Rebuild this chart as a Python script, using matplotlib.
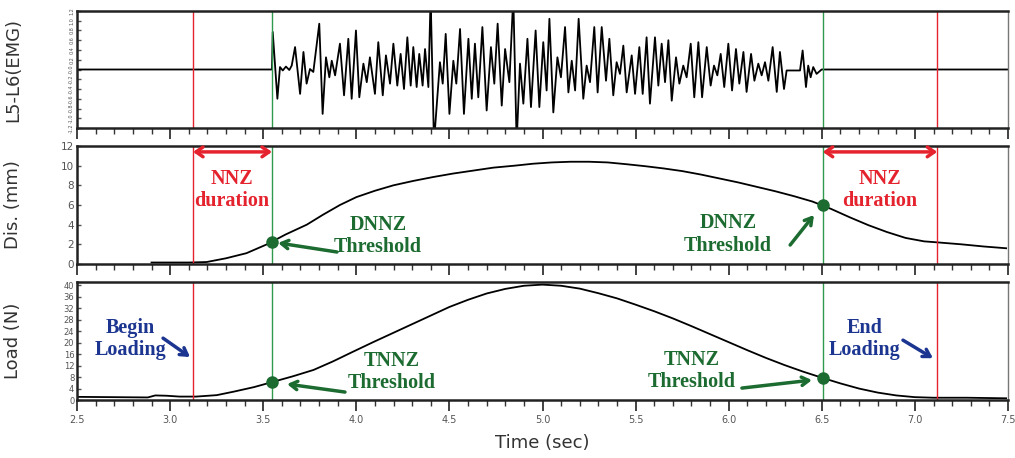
import numpy as np
import matplotlib
matplotlib.use("Agg")
import matplotlib.pyplot as plt
from matplotlib.ticker import MultipleLocator

# EMG trace (sec, value)
emg_t = [2.5, 3.547, 3.551, 3.576, 3.590, 3.605, 3.622, 3.640, 3.653, 3.671, 3.698, 3.716, 3.733,
         3.751, 3.769, 3.801, 3.819, 3.837, 3.855, 3.868, 3.886, 3.912, 3.934, 3.957, 3.975,
         3.998, 4.016, 4.038, 4.056, 4.073, 4.100, 4.118, 4.142, 4.159, 4.181, 4.199, 4.220,
         4.238, 4.256, 4.274, 4.292, 4.306, 4.324, 4.338, 4.356, 4.369, 4.387, 4.399, 4.417,
         4.449, 4.464, 4.480, 4.500, 4.521, 4.537, 4.557, 4.578, 4.602, 4.620, 4.637, 4.655,
         4.677, 4.700, 4.723, 4.741, 4.759, 4.781, 4.799, 4.822, 4.843, 4.861, 4.879, 4.897,
         4.919, 4.938, 4.963, 4.983, 5.004, 5.022, 5.037, 5.058, 5.080, 5.099, 5.121, 5.139,
         5.157, 5.175, 5.194, 5.219, 5.237, 5.255, 5.278, 5.296, 5.318, 5.341, 5.359, 5.380,
         5.398, 5.416, 5.434, 5.452, 5.479, 5.497, 5.520, 5.538, 5.559, 5.577, 5.604, 5.622,
         5.640, 5.658, 5.676, 5.694, 5.717, 5.735, 5.756, 5.774, 5.796, 5.815, 5.837, 5.857,
         5.882, 5.903, 5.921, 5.939, 5.957, 5.976, 5.998, 6.018, 6.039, 6.057, 6.079, 6.096,
         6.120, 6.138, 6.159, 6.177, 6.195, 6.213, 6.236, 6.258, 6.275, 6.297, 6.311, 6.383,
         6.397, 6.415, 6.427, 6.440, 6.454, 6.472, 6.499, 7.5]
emg_v = [0.0, 0.0, 0.77, -0.60, 0.05, -0.02, 0.06, -0.01, 0.08, 0.46, -0.50, 0.36, -0.29,
         0.01, -0.05, 0.94, -0.91, 0.25, -0.16, 0.18, -0.12, 0.53, -0.53, 0.63, -0.60,
         0.80, -0.57, 0.12, -0.26, 0.25, -0.50, 0.56, -0.53, 0.29, -0.29, 0.53, -0.33,
         0.32, -0.40, 0.66, -0.33, 0.46, -0.36, 0.32, -0.33, 0.42, -0.36, 1.5, -1.5,
         0.15, -0.29, 0.73, -0.91, 0.18, -0.29, 0.83, -0.91, 0.63, -0.60, 0.53, -0.57,
         0.87, -0.84, 0.46, -0.29, 0.94, -0.74, 0.42, -0.26, 1.5, -1.5, 0.12, -0.70,
         0.63, -0.77, 0.80, -0.77, 0.56, -0.43, 1.04, -0.88, 0.25, -0.16, 0.87, -0.47,
         0.18, -0.43, 1.04, -0.60, 0.08, -0.26, 0.87, -0.47, 0.87, -0.23, 0.63, -0.53,
         0.15, -0.09, 0.49, -0.47, 0.29, -0.50, 0.46, -0.50, 0.66, -0.70, 0.66, -0.33,
         0.53, -0.26, 0.60, -0.64, 0.25, -0.29, 0.08, -0.16, 0.53, -0.57, 0.56, -0.57,
         0.46, -0.33, 0.08, -0.12, 0.32, -0.36, 0.53, -0.43, 0.42, -0.29, 0.36, -0.46,
         0.32, -0.23, 0.12, -0.12, 0.15, -0.23, 0.46, -0.46, 0.36, -0.40, -0.02, -0.02,
         0.39, -0.36, 0.08, -0.16, 0.05, -0.09, 0.0, 0.0]

# displacement (mm)
dis_t = [2.90, 3.00, 3.10, 3.196, 3.30, 3.41, 3.52, 3.62, 3.734, 3.82, 3.912, 4.00, 4.10,
         4.199, 4.306, 4.414, 4.52, 4.628, 4.736, 4.85, 4.95, 5.05, 5.15, 5.25, 5.35,
         5.45, 5.55, 5.65, 5.75, 5.85, 5.95, 6.05, 6.15, 6.25, 6.35, 6.45, 6.55,
         6.65, 6.75, 6.85, 6.95, 7.05, 7.12, 7.25, 7.37, 7.49]
dis_v = [0.15, 0.15, 0.15, 0.2, 0.58, 1.1, 2.0, 3.0, 4.0, 5.0, 6.0, 6.8, 7.45,
         8.0, 8.45, 8.85, 9.2, 9.5, 9.8, 10.0, 10.2, 10.33, 10.4, 10.4, 10.33,
         10.15, 9.95, 9.72, 9.45, 9.1, 8.7, 8.3, 7.85, 7.4, 6.9, 6.35, 5.6,
         4.75, 3.95, 3.25, 2.65, 2.3, 2.2, 2.0, 1.78, 1.6]

# load (N)
load_t = [2.5, 2.7, 2.88, 2.92, 2.98, 3.05, 3.14, 3.25, 3.34, 3.45, 3.55, 3.66, 3.77,
          3.875, 3.98, 4.09, 4.2, 4.3, 4.4, 4.5, 4.6, 4.7, 4.8, 4.9, 5.0, 5.1, 5.2,
          5.3, 5.4, 5.5, 5.6, 5.7, 5.8, 5.9, 6.0, 6.1, 6.2, 6.3, 6.4, 6.5, 6.6, 6.7,
          6.8, 6.9, 7.0, 7.1, 7.28, 7.49]
load_v = [1.1, 1.0, 0.9, 1.6, 1.5, 1.2, 1.2, 1.7, 2.9, 4.5, 6.3, 8.3, 10.5,
          13.5, 16.8, 20.2, 23.5, 26.5, 29.5, 32.5, 35.0, 37.2, 38.8, 39.9, 40.3, 39.9, 38.9,
          37.3, 35.5, 33.3, 31.0, 28.5, 25.8, 23.0, 20.2, 17.4, 14.7, 12.2, 9.9, 7.8, 5.8, 4.0,
          2.6, 1.6, 1.0, 0.8, 0.8, 0.6]

red_lines = [3.123, 7.12]
green_lines = [3.547, 6.505]
dis_dots = [2.24, 6.0]
load_dots = [6.3, 7.65]

RED = "#e5232e"
GREEN = "#1c6b30"
NAVY = "#1b3590"
GREY = "#555555"

fig = plt.figure(figsize=(10.15, 4.58), dpi=100)
ax1 = fig.add_axes([0.0759, 0.7205, 0.9172, 0.2555])
ax2 = fig.add_axes([0.0759, 0.4236, 0.9172, 0.2576])
ax3 = fig.add_axes([0.0759, 0.1266, 0.9172, 0.2576])

ax1.plot(emg_t, emg_v, color="black", lw=1.3)
ax2.plot(dis_t, dis_v, color="black", lw=1.3)
ax3.plot(load_t, load_v, color="black", lw=1.3)

ax1.set_ylim(-1.2, 1.2)
ax2.set_ylim(0, 12)
ax3.set_ylim(0, 41.2)

for ax in (ax1, ax2, ax3):
    ax.set_xlim(2.5, 7.5)
    ax.xaxis.set_major_locator(MultipleLocator(0.5))
    ax.xaxis.set_minor_locator(MultipleLocator(0.1))
    ax.tick_params(axis="x", which="major", direction="out", length=8, width=1.3, color="#333333")
    ax.tick_params(axis="x", which="minor", direction="out", length=4, width=1.0, color="#333333")
    ax.tick_params(axis="y", direction="in", length=3, width=1.0, colors=GREY, pad=2)
    for side in ("top", "bottom", "left"):
        ax.spines[side].set_linewidth(1.8)
        ax.spines[side].set_color("#222222")
    ax.spines["right"].set_linewidth(1.0)
    ax.spines["right"].set_color("#777777")
    for xv in red_lines:
        ax.axvline(xv, color=RED, lw=1.0)
    for xv in green_lines:
        ax.axvline(xv, color="#2f9a4c", lw=1.0)

ax1.tick_params(axis="x", labelbottom=False)
ax2.tick_params(axis="x", labelbottom=False)
ax3.tick_params(axis="x", labelsize=7, labelcolor=GREY, pad=3)
ax3.set_xticks(np.arange(2.5, 7.51, 0.5))
ax3.set_xticklabels(["2.5", "3.0", "3.5", "4.0", "4.5", "5.0", "5.5", "6.0", "6.5", "7.0", "7.5"])

emg_ticks = np.round(np.arange(-1.2, 1.21, 0.2), 1)
ax1.set_yticks(emg_ticks)
ax1.set_yticklabels(["%.1f" % v for v in emg_ticks], rotation=90, fontsize=3.5, va="center")
ax2.set_yticks(range(0, 13, 2))
ax2.tick_params(axis="y", labelsize=7.5)
ax3.set_yticks(range(0, 41, 4))
ax3.tick_params(axis="y", labelsize=6)

lab = dict(fontsize=13, color="#333333")
ax1.set_ylabel("L5-L6(EMG)", **lab)
ax2.set_ylabel("Dis. (mm)", **lab)
ax3.set_ylabel("Load (N)", **lab)
for ax in (ax1, ax2, ax3):
    ax.yaxis.set_label_coords(-0.059, 0.5)
ax3.set_xlabel("Time (sec)", fontsize=13, color="#333333", labelpad=6)

# threshold dots
ax2.plot(green_lines, dis_dots, "o", color=GREEN, ms=8, zorder=5)
ax3.plot(green_lines, load_dots, "o", color=GREEN, ms=8, zorder=5)

serif = dict(family="Liberation Serif", fontweight="bold", fontsize=14.5, ha="center",
             va="center", linespacing=1.15)

# NNZ duration arrows and labels
for x0, x1 in ((red_lines[0], green_lines[0]), (green_lines[1], red_lines[1])):
    ax2.annotate("", xy=(x0, 11.4), xytext=(x1, 11.4),
                 arrowprops=dict(arrowstyle="<->,head_length=0.5,head_width=0.35",
                                 color=RED, lw=2.5, shrinkA=0, shrinkB=0))
ax2.text(3.332, 7.5, "NNZ\nduration", color=RED, **serif)
ax2.text(6.81, 7.5, "NNZ\nduration", color=RED, **serif)

arrow_kw = dict(arrowstyle="->,head_length=0.5,head_width=0.3", lw=2.5, shrinkA=0, shrinkB=0)

ax2.text(4.117, 2.85, "DNNZ\nThreshold", color=GREEN, **serif)
ax2.annotate("", xy=(3.58, 2.14), xytext=(3.896, 1.22), arrowprops=dict(color=GREEN, **arrow_kw))
ax2.text(5.996, 3.0, "DNNZ\nThreshold", color=GREEN, **serif)
ax2.annotate("", xy=(6.458, 4.98), xytext=(6.33, 1.93), arrowprops=dict(color=GREEN, **arrow_kw))

ax3.text(4.19, 9.9, "TNNZ\nThreshold", color=GREEN, **serif)
ax3.annotate("", xy=(3.628, 5.57), xytext=(3.939, 2.78), arrowprops=dict(color=GREEN, **arrow_kw))
ax3.text(5.803, 10.2, "TNNZ\nThreshold", color=GREEN, **serif)
ax3.annotate("", xy=(6.447, 6.96), xytext=(6.071, 4.17), arrowprops=dict(color=GREEN, **arrow_kw))

ax3.text(2.785, 21.2, "Begin\nLoading", color=NAVY, **serif)
ax3.annotate("", xy=(3.107, 15.0), xytext=(2.962, 21.6), arrowprops=dict(color=NAVY, **arrow_kw))
ax3.text(6.73, 21.2, "End\nLoading", color=NAVY, **serif)
ax3.annotate("", xy=(7.097, 14.6), xytext=(6.936, 20.9), arrowprops=dict(color=NAVY, **arrow_kw))

fig.savefig("out.png", dpi=100)
